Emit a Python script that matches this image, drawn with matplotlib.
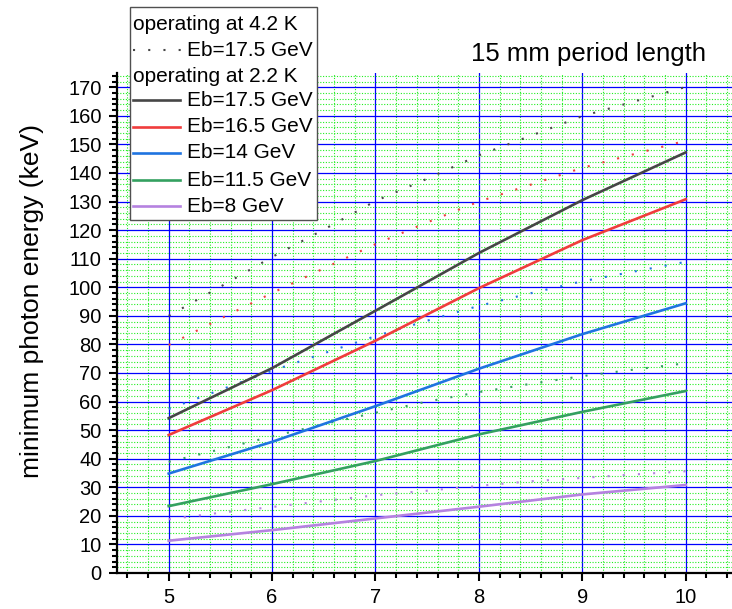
import matplotlib
matplotlib.use("Agg")
import matplotlib.pyplot as plt
from matplotlib.lines import Line2D
from matplotlib.patches import Rectangle
from matplotlib.ticker import MultipleLocator

plt.rcParams['font.family'] = ['Liberation Sans', 'DejaVu Sans']

# period length (mm) for the 2.2 K curves
x_cold = [5, 6, 7, 8, 9, 10]
e175_cold = [54.2, 71.7, 91.8, 112.0, 130.5, 147.2]
e165_cold = [48.3, 64.0, 81.3, 99.7, 116.5, 130.8]
e14_cold = [34.8, 45.9, 58.4, 71.5, 83.6, 94.4]
e115_cold = [23.4, 31.1, 39.2, 48.5, 56.4, 63.7]
e8_cold = [11.3, 15.0, 19.1, 23.2, 27.5, 30.8]

# 4.2 K curves
x_warm = [5, 5.5, 6, 6.5, 7, 7.5, 8, 8.5, 9, 9.5, 10]
e175_warm = [90.0, 100.2, 110.6, 120.2, 130.2, 138.0, 146.2, 153.0, 159.9, 165.0, 170.1]
e165_warm = [79.8, 89.0, 98.0, 106.6, 115.1, 122.7, 130.0, 135.9, 141.8, 146.6, 151.3]
e14_warm = [57.4, 64.1, 70.8, 76.9, 82.9, 88.3, 93.5, 97.9, 102.1, 105.5, 108.9]
e115_warm = [38.9, 43.3, 47.8, 52.1, 56.1, 60.0, 63.3, 66.2, 68.9, 71.2, 73.4]
e8_warm = [18.8, 21.1, 23.1, 25.2, 27.2, 28.8, 30.5, 32.1, 33.3, 34.5, 35.6]

labels = ['Eb=17.5 GeV', 'Eb=16.5 GeV', 'Eb=14 GeV', 'Eb=11.5 GeV', 'Eb=8 GeV']
colors = ['#464646', '#f03c3c', '#1f74e0', '#34a060', '#b582e0']

W, H = 732, 609
fig = plt.figure(figsize=(W / 100, H / 100), dpi=100)
ax = fig.add_axes([117 / W, 36 / H, 615 / W, 500 / H])

dots = (0, (1, 6.3))
for yv, c in zip([e175_warm, e165_warm, e14_warm, e115_warm, e8_warm], colors):
    ax.plot(x_warm, yv, color=c, lw=1.5, linestyle=dots, dash_capstyle='butt', zorder=3)
for yv, c in zip([e175_cold, e165_cold, e14_cold, e115_cold, e8_cold], colors):
    ax.plot(x_cold, yv, color=c, lw=1.9, zorder=4)

ax.set_xlim(4.5, 10.448)
ax.set_ylim(0, 175)
ax.xaxis.set_major_locator(MultipleLocator(1))
ax.xaxis.set_minor_locator(MultipleLocator(0.2))
ax.yaxis.set_major_locator(MultipleLocator(10))
ax.yaxis.set_minor_locator(MultipleLocator(2))
ax.grid(which='minor', color='#22ee22', linestyle=(0, (1, 1.5)), lw=0.8)
ax.grid(which='major', color='#0000ff', linestyle='-', lw=0.9)
ax.set_axisbelow(True)

for s in ['top', 'right']:
    ax.spines[s].set_visible(False)
for s in ['left', 'bottom']:
    ax.spines[s].set_linewidth(1.6)
ax.tick_params(which='major', direction='out', length=6, width=1.5, labelsize=14.5)
ax.tick_params(which='minor', direction='out', length=3.6, width=1.5)
ax.tick_params(axis='x', pad=5)
ax.tick_params(axis='y', pad=5)

# y label and title
fig.text(32 / W, 1 - 301 / H, 'minimum photon energy (keV)', rotation=90,
         ha='center', va='center', fontsize=19)
fig.text(471 / W, 1 - 61 / H, '15 mm period length', ha='left', va='baseline', fontsize=18.5)

# legend box drawn by hand (headers sit where the handles go)
def fx(p):
    return p / W

def fy(p):
    return 1 - p / H

fs = 15
fig.add_artist(Rectangle((fx(130), fy(220)), fx(317) - fx(130), fy(7) - fy(220),
                         transform=fig.transFigure, facecolor='white',
                         edgecolor='#505050', lw=1.0, zorder=10))
rows = [24, 50, 76, 100, 127, 153, 180, 206]
fig.text(fx(133), fy(rows[0]), 'operating at 4.2 K', ha='left', va='center', fontsize=fs, zorder=11)
fig.add_artist(Line2D([fx(133), fx(181)], [fy(rows[1])] * 2, transform=fig.transFigure,
                      color='#464646', lw=1.5, linestyle=(0, (1, 6.3)), zorder=11))
fig.text(fx(187), fy(rows[1]), labels[0], ha='left', va='center', fontsize=fs, zorder=11)
fig.text(fx(133), fy(rows[2]), 'operating at 2.2 K', ha='left', va='center', fontsize=fs, zorder=11)
for r, lab, c in zip(rows[3:], labels, colors):
    fig.add_artist(Line2D([fx(133), fx(180)], [fy(r)] * 2, transform=fig.transFigure,
                          color=c, lw=1.9, zorder=11))
    fig.text(fx(187), fy(r), lab, ha='left', va='center', fontsize=fs, zorder=11)

fig.savefig('out.png', dpi=100)
